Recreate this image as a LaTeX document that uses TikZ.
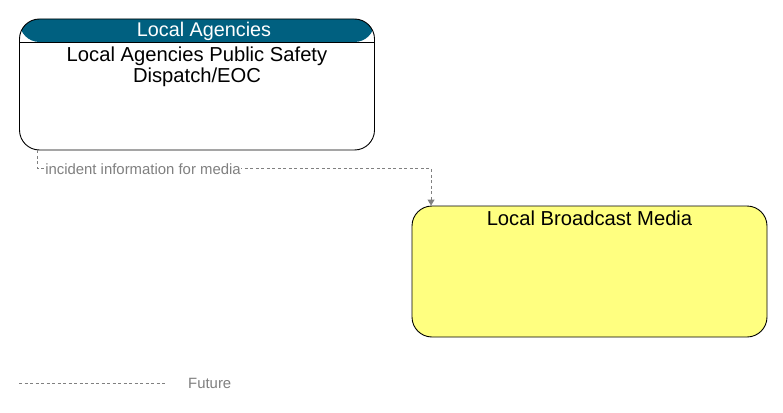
\documentclass[tikz,border=0pt]{standalone}
\usepackage{fontspec}
\setmainfont{Liberation Sans}
\usepackage{tikz}
\usetikzlibrary{%
	calc,%
	arrows.meta,%
	positioning%
}
\definecolor{headerteal}{RGB}{0,96,128}
\definecolor{mediayellow}{RGB}{255,255,128}
\definecolor{flowgray}{RGB}{128,128,128}

\begin{document}
\begin{tikzpicture}[>={Triangle[length=6pt,width=7pt]}, x=1pt, y=-1pt,
	element/.style={draw=black, line width=0.9pt, rounded corners=20pt, minimum width=355pt, minimum height=131pt, inner sep=0pt},
	elementname/.style={inner sep=0pt, align=center, font=\fontsize{20.2}{21}\selectfont},
	future/.style={draw=flowgray, line width=0.9pt, dash pattern=on 3pt off 2.5pt},
	flowlabel/.style={inner sep=0.5pt, fill=white, text=flowgray, font=\fontsize{14.9}{16}\selectfont}]
				\useasboundingbox (0,0) rectangle (783,412);
				
				% Elements
				\node[element, fill=white, path picture={
					\fill[headerteal] (path picture bounding box.north west) rectangle ([yshift=-23pt]path picture bounding box.north east);
					\draw[line width=0.9pt] ([yshift=-23pt]path picture bounding box.north west) -- ([yshift=-23pt]path picture bounding box.north east);
				}] (dispatch) at (197,84.5) {};
				\node[element, fill=mediayellow] (media) at (589.5,271.5) {};
				
				% Element names
				\node[elementname, text=white, font=\fontsize{19.8}{21}\selectfont] (agencies) at ($(dispatch.north)+(7,13)$) {Local Agencies};
				\node[elementname, anchor=north] (dispatchname) at ($(dispatch.north)+(0,28.5)$) {Local Agencies Public Safety\\Dispatch/EOC};
				\node[elementname, anchor=north] (medianame) at ($(media.north)+(0,5.5)$) {Local Broadcast Media};
				
				% Flows
				\coordinate (flowturn) at ($(media.north west)+(19.5,-37)$);
				\draw[future, ->, flowgray] ($(dispatch.south west)+(18.5,0)$) |- (flowturn) -- (media.north west -| flowturn);
				\node[flowlabel] (flowname) at (143,169.5) {incident information for media};
				
				% Legend
				\coordinate (legendstart) at (19,383.5);
				\coordinate (legendend) at (166,383.5);
				\draw[future] (legendstart) -- (legendend);
				\node[flowlabel, anchor=west, inner sep=0pt] (futurename) at (188,383.5) {Future};
			\end{tikzpicture}
\end{document}
